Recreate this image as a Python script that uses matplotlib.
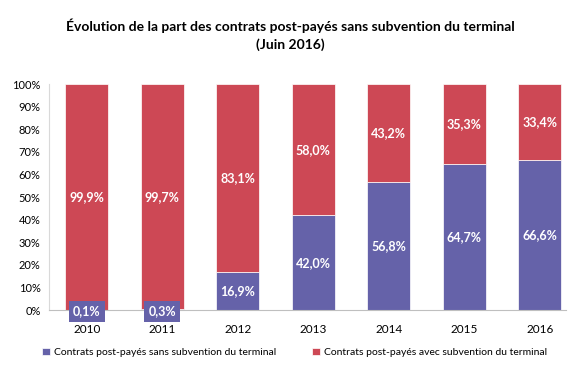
import matplotlib.pyplot as plt
import numpy as np

plt.rcParams['font.family'] = ['Lato', 'DejaVu Sans']

years = ['2010', '2011', '2012', '2013', '2014', '2015', '2016']
sans_subv = [0.1, 0.3, 16.9, 42.0, 56.8, 64.7, 66.6]
avec_subv = [99.9, 99.7, 83.1, 58.0, 43.2, 35.3, 33.4]

blue = '#6562A9'
red = '#CD4855'

fig = plt.figure(figsize=(5.8, 3.67), dpi=100)
ax = fig.add_axes([0.0845, 0.155, 0.892, 0.616])

x = np.arange(len(years))
w = 0.57
ax.bar(x, sans_subv, w, color=blue, edgecolor='white', linewidth=0.5,
       label='Contrats post-payés sans subvention du terminal')
ax.bar(x, avec_subv, w, bottom=sans_subv, color=red, edgecolor='white', linewidth=0.5,
       label='Contrats post-payés avec subvention du terminal')

def fmt(v):
    return f'{v:.1f}%'.replace('.', ',')

for i in range(len(years)):
    s, a = sans_subv[i], avec_subv[i]
    ax.text(x[i], s + a / 2, fmt(a), ha='center', va='center', color='white',
            fontsize=9, fontweight='bold')
    if s < 5:
        ax.text(x[i], -0.6, fmt(s), ha='center', va='center', color='white',
                fontsize=9, fontweight='bold',
                bbox=dict(boxstyle='square,pad=0.35', facecolor=blue, edgecolor='none'))
    else:
        ax.text(x[i], s / 2, fmt(s), ha='center', va='center', color='white',
                fontsize=9, fontweight='bold')

ax.set_ylim(0, 100)
ax.set_xlim(-0.5, 6.35)
ax.set_yticks(np.arange(0, 101, 10))
ax.set_yticklabels([f'{v}%' for v in range(0, 101, 10)], fontsize=8)
ax.set_xticks(x)
ax.set_xticklabels(years, fontsize=8.5)
ax.tick_params(axis='both', length=0)
ax.tick_params(axis='x', pad=10)
ax.tick_params(axis='y', pad=6)
for s in ['top', 'right']:
    ax.spines[s].set_visible(False)
ax.spines['left'].set_color('#D9D9D9')
ax.spines['bottom'].set_color('#BFBFBF')

fig.text(0.5, 0.905, 'Évolution de la part des contrats post-payés sans subvention du terminal\n(Juin 2016)',
         ha='center', va='center', fontsize=10, fontweight='bold', linespacing=1.45)

fig.legend(loc='center', bbox_to_anchor=(0.508, 0.04), ncol=2, frameon=False,
           fontsize=7.5, handlelength=0.7, handleheight=0.7, columnspacing=3.5, handletextpad=0.4)

fig.savefig('out.png', dpi=100)
